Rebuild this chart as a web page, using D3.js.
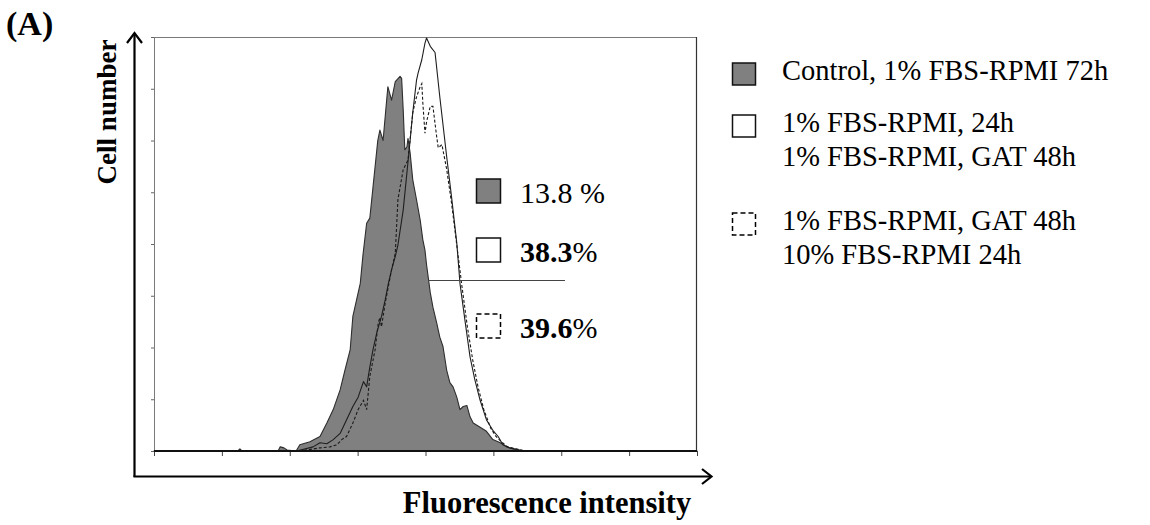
<!DOCTYPE html>
<html>
<head>
<meta charset="utf-8">
<script src="https://cdn.jsdelivr.net/npm/d3@7"></script>
<style>
  body { margin: 0; background: #fff; }
  svg { display: block; }
  text { font-family: "Liberation Serif", "Times New Roman", serif; fill: #000; }
</style>
</head>
<body>
<svg id="chart" width="1150" height="525"></svg>
<script>
// Flow cytometry histograms: [fluorescence channel, cell count]
const controlHist = [[0,0],[158,0],[162,2],[166,0],[234,0],[238,4],[245,3],[251,1],[268,0],[275,6],[294,9],[313,14],[326,27],[338,40],[351,59],[360,78],[370,98],[375,130],[382,146],[389,162],[394,189],[401,220],[407,225],[413,255],[422,300],[426,310],[432,300],[441,352],[448,339],[455,357],[464,362],[467,360],[470,329],[473,291],[477,294],[479,302],[483,288],[488,262],[495,243],[502,223],[507,204],[511,194],[514,180],[521,153],[526,139],[533,124],[539,110],[545,101],[552,78],[558,66],[564,62],[571,52],[577,40],[583,43],[590,44],[596,33],[602,27],[615,23],[627,19],[639,11],[653,8],[665,4],[677,2],[690,0],[1024,0]];

const gatHist = [[0,0],[257,0],[269,0],[300,4],[313,8],[326,7],[338,11],[351,17],[363,30],[375,43],[385,52],[395,67],[401,62],[407,81],[413,98],[420,114],[429,130],[436,146],[442,162],[448,175],[455,188],[460,199],[470,233],[483,300],[488,327],[495,358],[498,365],[505,378],[511,394],[514,399],[521,391],[530,385],[539,342],[552,284],[561,246],[571,201],[577,162],[587,124],[596,91],[605,69],[615,49],[627,30],[639,20],[649,14],[658,6],[671,3],[690,1],[700,0],[1024,0]];

const recoveryHist = [[0,0],[275,0],[313,3],[332,4],[345,6],[354,11],[363,14],[375,27],[385,40],[395,49],[401,40],[407,72],[417,98],[423,124],[426,129],[429,120],[436,143],[442,159],[448,175],[455,191],[460,243],[470,272],[479,281],[488,327],[495,342],[502,352],[505,355],[507,336],[511,307],[514,318],[521,333],[526,333],[533,304],[536,293],[543,296],[552,272],[561,240],[571,199],[581,158],[591,120],[601,88],[611,62],[622,40],[635,22],[645,14],[655,9],[667,4],[684,2],[700,0],[1024,0]];

// Percentages inside the plot
const pctValues = [13.8, 38.3, 39.6];
const pctBold = [false, true, true];

// Legend entries (each may span several lines)
const legendLabels = [
  ["Control, 1% FBS-RPMI 72h"],
  ["1% FBS-RPMI, 24h", "1% FBS-RPMI, GAT 48h"],
  ["1% FBS-RPMI, GAT 48h", "10% FBS-RPMI 24h"]
];
const swatchStyles = ["filled", "open", "dashed"];

// Axis tick positions
const xTicks = d3.range(0, 1025, 128);
const yTicks = d3.range(0, 401, 50);

const svg = d3.select("#chart");
const plot = { left: 154, right: 697, top: 37, bottom: 451 };

const x = d3.scaleLinear().domain([0, 1024]).range([plot.left, plot.right]);
const y = d3.scaleLinear().domain([0, 400]).range([plot.bottom, plot.top]);

// Plot frame
svg.append("rect")
  .attr("x", plot.left + 0.5).attr("y", plot.top + 0.5)
  .attr("width", plot.right - plot.left - 1)
  .attr("height", plot.bottom - plot.top)
  .attr("fill", "none").attr("stroke", "#7a7a7a").attr("stroke-width", 1);
svg.append("line")
  .attr("x1", plot.right - 0.5).attr("x2", plot.right - 0.5)
  .attr("y1", plot.top).attr("y2", plot.bottom)
  .attr("stroke", "#333").attr("stroke-width", 1.2);

// Tick marks
const yAxis = svg.append("g")
  .attr("transform", `translate(${plot.left},0)`)
  .call(d3.axisLeft(y).tickValues(yTicks).tickSize(3).tickFormat(""));
yAxis.select(".domain").remove();
yAxis.selectAll(".tick line").attr("stroke", "#666");

const xAxis = svg.append("g")
  .attr("transform", `translate(0,${plot.bottom})`)
  .call(d3.axisBottom(x).tickValues(xTicks).tickSize(5).tickFormat(""));
xAxis.select(".domain").remove();
xAxis.selectAll(".tick line").attr("stroke", "#444");

// Histograms
const area = d3.area().x(d => x(d[0])).y0(y(0)).y1(d => y(d[1]));
const line = d3.line().x(d => x(d[0])).y(d => y(d[1]));

svg.append("path").datum(controlHist)
  .attr("d", area)
  .attr("fill", "#808080")
  .attr("stroke", "#2e2e2e").attr("stroke-width", 1.1).attr("stroke-linejoin", "round");

svg.append("path").datum(gatHist)
  .attr("d", line)
  .attr("fill", "none")
  .attr("stroke", "#1e1e1e").attr("stroke-width", 1.1).attr("stroke-linejoin", "round");

svg.append("path").datum(recoveryHist)
  .attr("d", line)
  .attr("fill", "none")
  .attr("stroke", "#1a1a1a").attr("stroke-width", 1.1)
  .attr("stroke-dasharray", "3,2");

// Baseline
svg.append("line")
  .attr("x1", plot.left).attr("x2", plot.right)
  .attr("y1", plot.bottom).attr("y2", plot.bottom)
  .attr("stroke", "#111").attr("stroke-width", 2);

// Swatch helper
function swatch(g, style, sx, sy, w, h) {
  const r = g.append("rect")
    .attr("x", sx).attr("y", sy).attr("width", w).attr("height", h)
    .attr("stroke", "#111").attr("stroke-width", 1.5)
    .attr("fill", style === "filled" ? "#808080" : "#fff");
  if (style === "dashed") r.attr("stroke", "#000").attr("stroke-dasharray", "5,3").attr("stroke-width", 1.5);
}

// In-plot percentage labels
const pctRows = [191, 250, 326];
const pctG = svg.append("g");
pctValues.forEach((v, i) => {
  swatch(pctG, swatchStyles[i], 476.5, pctRows[i] - 12, 24, 24);
  const t = pctG.append("text")
    .attr("x", 520).attr("y", pctRows[i] + 12)
    .attr("font-size", 30);
  if (pctBold[i]) {
    t.append("tspan").attr("font-weight", "bold").text(v.toFixed(1));
    t.append("tspan").text("%");
  } else {
    t.text(v.toFixed(1) + " %");
  }
});

// Gate marker line
svg.append("line")
  .attr("x1", 428).attr("x2", 565)
  .attr("y1", 280.5).attr("y2", 280.5)
  .attr("stroke", "#444").attr("stroke-width", 1);

// Legend
const legG = svg.append("g");
const legTops = [63, 115, 213];
legendLabels.forEach((lines, i) => {
  swatch(legG, swatchStyles[i], 732.5, legTops[i], 23, 22);
  lines.forEach((s, j) => {
    legG.append("text")
      .attr("x", 782).attr("y", legTops[i] + 17 + j * 34)
      .attr("font-size", 28.5)
      .text(s);
  });
});

// Outer axes with arrowheads
const ax = svg.append("g").attr("fill", "none").attr("stroke", "#000").attr("stroke-width", 2.2);
ax.append("polyline").attr("points", "134.5,477 134.5,34");
ax.append("polyline").attr("points", "127,43 134.5,33 142,43");
ax.append("polyline").attr("points", "133.5,476.5 711,476.5");
ax.append("polyline").attr("points", "702,469 711.5,476.5 702,484");

// Axis titles and panel label
svg.append("text")
  .attr("x", 547).attr("y", 513)
  .attr("text-anchor", "middle")
  .attr("font-size", 30.5).attr("font-weight", "bold")
  .text("Fluorescence intensity");

svg.append("text")
  .attr("transform", "translate(116,112) rotate(-90)")
  .attr("text-anchor", "middle")
  .attr("font-size", 27).attr("font-weight", "bold")
  .text("Cell number");

svg.append("text")
  .attr("x", 6).attr("y", 35)
  .attr("font-size", 34).attr("font-weight", "bold")
  .text("(A)");
</script>
</body>
</html>
